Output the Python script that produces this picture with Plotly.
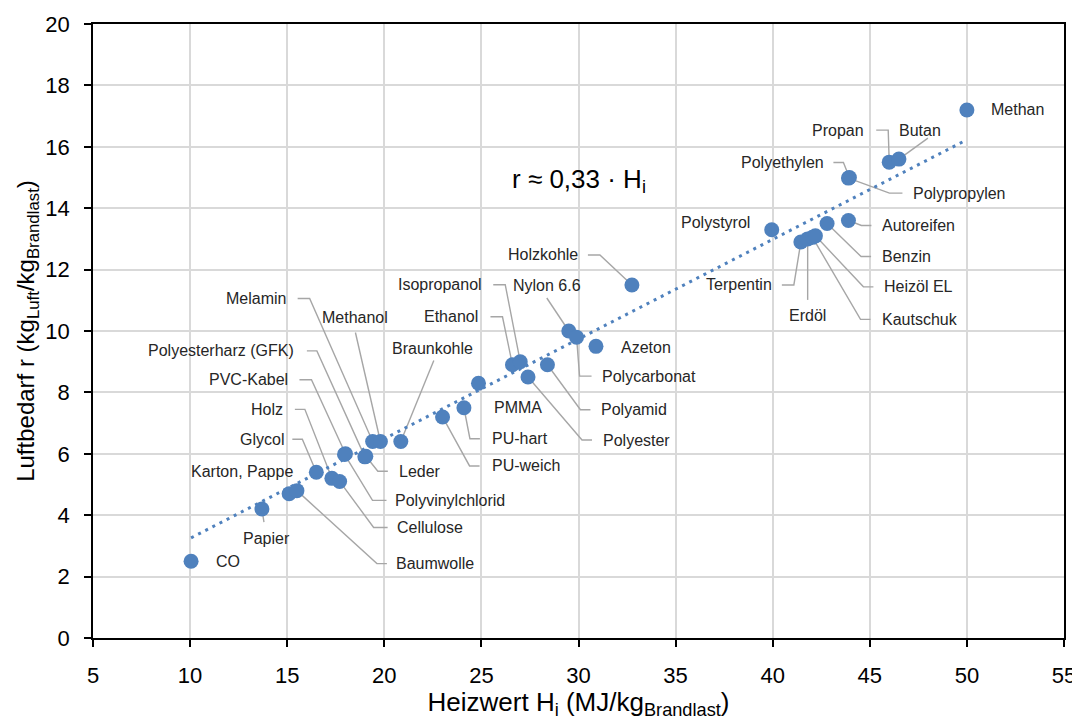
import numpy as np
import plotly.graph_objects as go

stoffe = ["CO", "Papier", "Karton, Pappe", "Baumwolle", "Glycol", "Holz", "Cellulose",
          "PVC-Kabel", "Polyvinylchlorid", "Polyesterharz (GFK)", "Leder", "Melamin",
          "Methanol", "Braunkohle", "PU-weich", "PU-hart", "PMMA", "Ethanol", "Isopropanol",
          "Polyester", "Polyamid", "Nylon 6.6", "Polycarbonat", "Azeton", "Holzkohle",
          "Polystyrol", "Terpentin", "Erdöl", "Kautschuk", "Heizöl EL", "Benzin",
          "Autoreifen", "Polyethylen", "Polypropylen", "Propan", "Butan", "Methan"]
heizwert = [10.05, 13.7, 15.1, 15.5, 16.5, 17.3, 17.7,
            18.0, 17.95, 19.0, 19.05, 19.4,
            19.8, 20.85, 23.0, 24.1, 24.85, 26.6, 27.0,
            27.4, 28.4, 29.5, 29.9, 30.9, 32.75,
            39.95, 41.45, 41.8, 42.05, 42.2, 42.8,
            43.9, 43.95, 43.9, 46.0, 46.5, 50.0]
luftbedarf = [2.5, 4.2, 4.7, 4.8, 5.4, 5.2, 5.1,
              6.0, 5.98, 5.9, 5.92, 6.4,
              6.4, 6.4, 7.2, 7.5, 8.3, 8.9, 9.0,
              8.5, 8.9, 10.0, 9.8, 9.5, 11.5,
              13.3, 12.9, 13.0, 13.05, 13.1, 13.5,
              13.6, 15.0, 14.98, 15.5, 15.6, 17.2]

# Beschriftung: Versatz des Textes in px (y nach oben), Anker, Führungslinie (px, endet am Punkt)
beschriftung = {
    "CO": (23, 0, "left", None),
    "Papier": (5, -29, "center", [(2, -13)]),
    "Karton, Pappe": (6, 22, "right", None),
    "Baumwolle": (97, -73, "left", [(90, -73), (80, -73)]),
    "Glycol": (-30, 33, "right", [(-24, 33), (-14, 33)]),
    "Holz": (-47, 69, "right", [(-37, 69), (-27, 69)]),
    "Cellulose": (55, -46, "left", [(48, -46), (34, -46)]),
    "PVC-Kabel": (-55, 74, "right", [(-46, 74), (-34, 74)]),
    "Polyvinylchlorid": (49, -46, "left", [(42, -46), (28, -46)]),
    "Polyesterharz (GFK)": (-69, 106, "right", [(-58, 106), (-48, 106)]),
    "Leder": (31, -15, "left", [(22, -15), (12, -15)]),
    "Melamin": (-85, 143, "right", [(-75, 143), (-63, 143)]),
    "Methanol": (-25, 124, "center", [(-25, 109)]),
    "Braunkohle": (32, 93, "center", [(33, 81)]),
    "PU-weich": (47, -49, "left", [(37, -49), (27, -49)]),
    "PU-hart": (26, -31, "left", [(16, -31), (6, -31)]),
    "PMMA": (14, -24, "left", None),
    "Ethanol": (-32, 48, "right", [(-22, 48), (-10, 48)]),
    "Isopropanol": (-36, 77, "right", [(-27, 77), (-15, 77)]),
    "Polyester": (73, -63, "left", [(64, -63), (54, -63)]),
    "Polyamid": (52, -45, "left", [(43, -45), (33, -45)]),
    "Nylon 6.6": (-22, 46, "center", [(-22, 33)]),
    "Polycarbonat": (23, -39, "left", [(15, -39), (3, -39)]),
    "Azeton": (23, -1, "left", None),
    "Holzkohle": (-52, 30, "right", [(-44, 30), (-32, 30)]),
    "Polystyrol": (-20, 7, "right", None),
    "Terpentin": (-27, -43, "right", [(-19, -43), (-7, -43)]),
    "Erdöl": (0, -77, "center", [(0, -61)]),
    "Kautschuk": (67, -82, "left", [(58, -82), (48, -82)]),
    "Heizöl EL": (67, -51, "left", [(58, -51), (48, -51)]),
    "Benzin": (53, -33, "left", [(44, -33), (34, -33)]),
    "Autoreifen": (32, -5, "left", [(23, -5), (13, -5)]),
    "Polyethylen": (-23, 15, "right", [(-16, 15), (-6, 15)]),
    "Polypropylen": (63, -15, "left", [(54, -15), (41, -15)]),
    "Propan": (-23, 32, "right", [(-13, 32), (-1, 32)]),
    "Butan": (21, 29, "center", [(29, 21)]),
    "Methan": (22, 0, "left", None),
}

blau = "#4F81BD"
schrift = "Arial, Liberation Sans, sans-serif"

x = np.array(heizwert)
y = np.array(luftbedarf)
steigung = (x * y).sum() / (x * x).sum()
x_trend = np.array([x.min(), x.max()])

fig = go.Figure()
fig.add_scatter(x=x_trend, y=steigung * x_trend, mode="lines",
                line=dict(color=blau, width=3, dash="3px,5px"), hoverinfo="skip")
fig.add_scatter(x=heizwert, y=luftbedarf, mode="markers", text=stoffe,
                marker=dict(color=blau, size=15))

for name, hx, ry in zip(stoffe, heizwert, luftbedarf):
    dx, dy, anker, linie = beschriftung[name]
    fig.add_annotation(x=hx, y=ry, text=name, showarrow=False, xshift=dx, yshift=dy,
                       xanchor=anker, yanchor="middle",
                       font=dict(family=schrift, size=16, color="#262626"))
    if linie:
        pfad = "M " + " L ".join(f"{px},{py}" for px, py in linie + [(0, 0)])
        fig.add_shape(type="path", path=pfad, xref="x", yref="y",
                      xsizemode="pixel", ysizemode="pixel", xanchor=hx, yanchor=ry,
                      line=dict(color="#A6A6A6", width=1.4), layer="between")

fig.add_annotation(x=30, y=14.9, text="r ≈ 0,33 · H<sub>i</sub>", showarrow=False,
                   font=dict(family=schrift, size=26, color="#000000"))

achse = dict(showgrid=True, gridcolor="#D9D9D9", gridwidth=1.5, showline=True,
             linecolor="#000000", linewidth=1.5, mirror=True, ticks="outside",
             ticklen=7, tickwidth=1.5, tickcolor="#000000", zeroline=False,
             automargin=False, ticklabelstandoff=10,
             tickfont=dict(family=schrift, size=22, color="#000000"))

# die Seite hat 8 px Rand, daher 1072 x 712
fig.update_layout(
    width=1072, height=712,
    paper_bgcolor="white", plot_bgcolor="white",
    showlegend=False,
    margin=dict(l=85, r=16, t=16, b=82),
    xaxis=dict(achse, range=[5, 55], dtick=5,
               title=dict(text="Heizwert H<sub>i</sub> (MJ/kg<sub>Brandlast</sub>)",
                          font=dict(family=schrift, size=26, color="#000000"), standoff=6)),
    yaxis=dict(achse, range=[0, 20], dtick=2,
               title=dict(text="Luftbedarf r (kg<sub>Luft</sub>/kg<sub>Brandlast</sub>)",
                          font=dict(family=schrift, size=24, color="#000000"), standoff=4)),
)

fig.write_html("out.html")
